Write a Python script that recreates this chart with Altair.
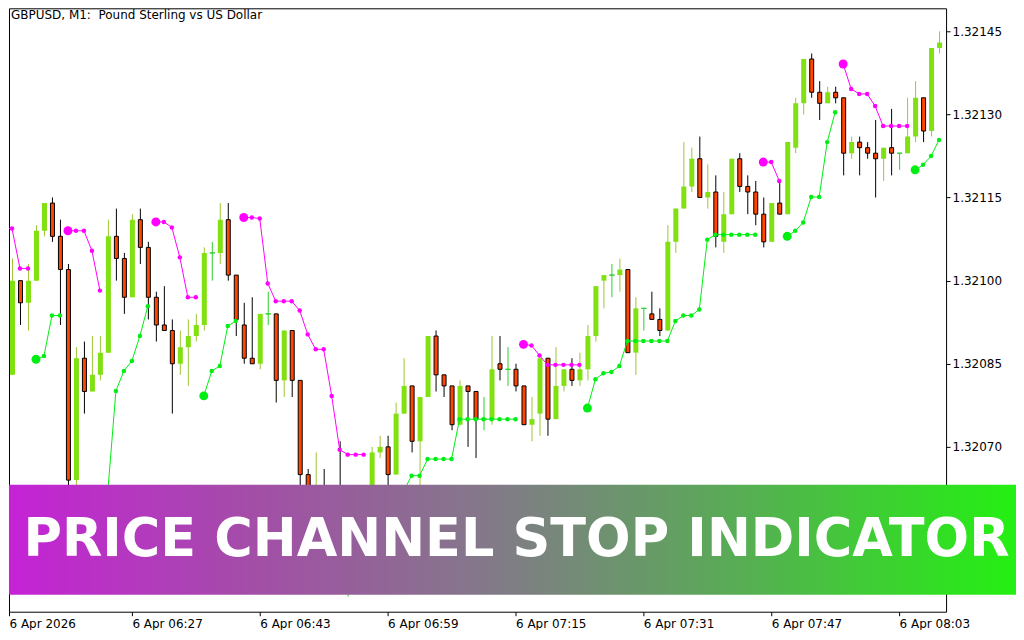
import json
import altair as alt
import pandas as pd

# ---------------- data ----------------
x_tick_minutes = [0, 16, 32, 48, 64, 80, 96, 112]
x_tick_labels = ["6 Apr 2026", "6 Apr 06:27", "6 Apr 06:43", "6 Apr 06:59",
                 "6 Apr 07:15", "6 Apr 07:31", "6 Apr 07:47", "6 Apr 08:03"]
y_ticks = [1.32070, 1.32085, 1.32100, 1.32115, 1.32130, 1.32145]
title_text = "GBPUSD, M1:\u00a0 Pound Sterling vs US Dollar"
banner_text = "PRICE CHANNEL STOP INDICATOR"

opens = [1.32095, 1.32083, 1.32100, 1.32096, 1.32100, 1.32109, 1.32114, 1.32108, 1.32102, 1.32064,
         1.32086, 1.32080, 1.32083, 1.32087, 1.32108, 1.32104, 1.32097, 1.32111, 1.32106, 1.32097,
         1.32092, 1.32091, 1.32085, 1.32088, 1.32090, 1.32092, 1.32105, 1.32105, 1.32111, 1.32101,
         1.32092, 1.32086, 1.32085, 1.32094, 1.32094, 1.32082, 1.32091, 1.32082, 1.32065, 1.32052,
         1.32062, 1.32056, 1.32060, 1.32052, 1.32052, 1.32060, 1.32056, 1.32069, 1.32070, 1.32065,
         1.32076, 1.32081, 1.32071, 1.32079, 1.32090, 1.32083, 1.32081, 1.32074, 1.32081, 1.32080,
         1.32075, 1.32075, 1.32085, 1.32084, 1.32084, 1.32081, 1.32074, 1.32076, 1.32086, 1.32075,
         1.32081, 1.32084, 1.32082, 1.32084, 1.32090, 1.32100, 1.32101, 1.32101, 1.32102, 1.32087,
         1.32095, 1.32094, 1.32093, 1.32091, 1.32107, 1.32113, 1.32117, 1.32122, 1.32115, 1.32116,
         1.32107, 1.32112, 1.32122, 1.32117, 1.32116, 1.32112, 1.32107, 1.32114, 1.32112, 1.32124,
         1.32132, 1.32140, 1.32134, 1.32132, 1.32134, 1.32133, 1.32123, 1.32125, 1.32124, 1.32123,
         1.32122, 1.32124, 1.32123, 1.32123, 1.32126, 1.32133, 1.32127, 1.32142]

highs = [1.32096, 1.32104, 1.32100, 1.32103, 1.32110, 1.32114, 1.32115, 1.32111, 1.32103, 1.32088,
         1.32089, 1.32090, 1.32090, 1.32111, 1.32113, 1.32105, 1.32112, 1.32113, 1.32107, 1.32098,
         1.32099, 1.32093, 1.32091, 1.32093, 1.32094, 1.32106, 1.32107, 1.32114, 1.32114, 1.32101,
         1.32096, 1.32097, 1.32094, 1.32098, 1.32094, 1.32091, 1.32091, 1.32082, 1.32066, 1.32069,
         1.32066, 1.32058, 1.32071, 1.32058, 1.32061, 1.32063, 1.32070, 1.32072, 1.32072, 1.32078,
         1.32086, 1.32081, 1.32079, 1.32090, 1.32091, 1.32083, 1.32081, 1.32082, 1.32081, 1.32080,
         1.32079, 1.32090, 1.32090, 1.32088, 1.32085, 1.32081, 1.32079, 1.32086, 1.32086, 1.32088,
         1.32084, 1.32086, 1.32087, 1.32092, 1.32099, 1.32101, 1.32103, 1.32104, 1.32102, 1.32097,
         1.32095, 1.32098, 1.32095, 1.32110, 1.32113, 1.32125, 1.32124, 1.32126, 1.32121, 1.32119,
         1.32116, 1.32122, 1.32123, 1.32119, 1.32118, 1.32115, 1.32114, 1.32118, 1.32125, 1.32133,
         1.32140, 1.32141, 1.32136, 1.32135, 1.32135, 1.32133, 1.32126, 1.32126, 1.32125, 1.32129,
         1.32124, 1.32131, 1.32123, 1.32133, 1.32136, 1.32133, 1.32142, 1.32145]

lows = [1.32082, 1.32083, 1.32092, 1.32091, 1.32100, 1.32108, 1.32107, 1.32092, 1.32060, 1.32061,
        1.32076, 1.32080, 1.32082, 1.32087, 1.32100, 1.32094, 1.32097, 1.32103, 1.32093, 1.32089,
        1.32091, 1.32076, 1.32083, 1.32081, 1.32089, 1.32091, 1.32100, 1.32103, 1.32100, 1.32090,
        1.32085, 1.32085, 1.32084, 1.32092, 1.32078, 1.32079, 1.32079, 1.32062, 1.32055, 1.32050,
        1.32052, 1.32045, 1.32047, 1.32043, 1.32050, 1.32052, 1.32054, 1.32068, 1.32063, 1.32065,
        1.32076, 1.32069, 1.32060, 1.32079, 1.32080, 1.32079, 1.32073, 1.32074, 1.32070, 1.32068,
        1.32073, 1.32074, 1.32082, 1.32081, 1.32080, 1.32074, 1.32071, 1.32072, 1.32072, 1.32075,
        1.32080, 1.32081, 1.32081, 1.32082, 1.32089, 1.32095, 1.32097, 1.32098, 1.32087, 1.32083,
        1.32091, 1.32093, 1.32090, 1.32091, 1.32105, 1.32113, 1.32116, 1.32115, 1.32113, 1.32106,
        1.32105, 1.32112, 1.32116, 1.32112, 1.32110, 1.32106, 1.32107, 1.32112, 1.32112, 1.32123,
        1.32130, 1.32133, 1.32129, 1.32132, 1.32132, 1.32119, 1.32122, 1.32119, 1.32122, 1.32115,
        1.32118, 1.32119, 1.32120, 1.32123, 1.32125, 1.32125, 1.32126, 1.32141]

closes = [1.32083, 1.32100, 1.32096, 1.32100, 1.32109, 1.32114, 1.32108, 1.32102, 1.32064, 1.32086,
          1.32080, 1.32083, 1.32087, 1.32108, 1.32104, 1.32097, 1.32111, 1.32106, 1.32097, 1.32092,
          1.32091, 1.32085, 1.32088, 1.32090, 1.32092, 1.32105, 1.32105, 1.32111, 1.32101, 1.32093,
          1.32086, 1.32085, 1.32094, 1.32094, 1.32082, 1.32091, 1.32082, 1.32065, 1.32058, 1.32062,
          1.32055, 1.32048, 1.32050, 1.32052, 1.32058, 1.32054, 1.32069, 1.32070, 1.32065, 1.32076,
          1.32081, 1.32071, 1.32079, 1.32090, 1.32083, 1.32081, 1.32074, 1.32081, 1.32080, 1.32075,
          1.32075, 1.32084, 1.32084, 1.32084, 1.32081, 1.32074, 1.32075, 1.32086, 1.32075, 1.32081,
          1.32084, 1.32082, 1.32084, 1.32090, 1.32099, 1.32101, 1.32101, 1.32102, 1.32087, 1.32095,
          1.32095, 1.32093, 1.32091, 1.32107, 1.32113, 1.32117, 1.32122, 1.32115, 1.32116, 1.32108,
          1.32112, 1.32122, 1.32117, 1.32116, 1.32112, 1.32107, 1.32114, 1.32112, 1.32125, 1.32132,
          1.32140, 1.32134, 1.32132, 1.32134, 1.32133, 1.32123, 1.32125, 1.32124, 1.32123, 1.32122,
          1.32124, 1.32123, 1.32123, 1.32126, 1.32133, 1.32127, 1.32142, 1.32143]

upper_stop = [1.321094, 1.321094, 1.321022, 1.321022, None, None, None, None, 1.321090, 1.321090,
              1.321090, 1.321054, 1.320982, None, None, None, None, None, None, 1.321106,
              1.321106, 1.321096, 1.321042, 1.320970, 1.320970, None, None, None, None, None,
              1.321114, 1.321114, 1.321112, 1.320995, 1.320963, 1.320963, 1.320963, 1.320946, 1.320903, 1.320876,
              1.320876, 1.320792, 1.320695, 1.320686, 1.320686, 1.320686, None, None, None, None,
              None, None, None, None, None, None, None, None, None, None,
              None, None, None, None, None, 1.320885, 1.320883, 1.320865, 1.320848, 1.320848,
              1.320848, 1.320848, 1.320848, None, None, None, None, None, None, None,
              None, None, None, None, None, None, None, None, None, None,
              None, None, None, None, None, 1.321214, 1.321214, 1.321180, None, None,
              None, None, None, None, None, 1.321391, 1.321346, 1.321337, 1.321337, 1.321315,
              1.321279, 1.321279, 1.321279, 1.321279, None, None, None, None]

lower_stop = [None, None, None, None, 1.320858, 1.320864, 1.320937, 1.320937, None, None,
              None, None, None, 1.320621, 1.320801, 1.320837, 1.320855, 1.320900, 1.320954, None,
              None, None, None, None, None, 1.320792, 1.320837, 1.320846, 1.320918, 1.320927,
              None, None, None, None, None, None, None, None, None, None,
              None, None, None, None, None, None, 1.320500, 1.320530, 1.320560, 1.320590,
              1.320620, 1.320648, 1.320648, 1.320678, 1.320678, 1.320678, 1.320678, 1.320750, 1.320750, 1.320750,
              1.320750, 1.320750, 1.320750, 1.320750, 1.320750, None, None, None, None, None,
              None, None, None, 1.320770, 1.320822, 1.320833, 1.320835, 1.320846, 1.320891, 1.320891,
              1.320891, 1.320891, 1.320891, 1.320891, 1.320927, 1.320937, 1.320937, 1.320948, 1.321074, 1.321083,
              1.321083, 1.321083, 1.321083, 1.321083, 1.321083, None, None, None, 1.321080, 1.321090,
              1.321105, 1.321151, 1.321151, 1.321250, 1.321304, None, None, None, None, None,
              None, None, None, None, 1.321200, 1.321209, 1.321225, 1.321254]

# ---------------- tables ----------------
n = len(opens)
kinds = ["bull" if c > o else ("bear" if c < o else "doji") for o, c in zip(opens, closes)]
candles = pd.DataFrame({"k": list(range(n)), "o": opens, "h": highs, "l": lows,
                        "c": closes, "kind": kinds})


def stop_rows(vals, name):
    rows, seg, prev = [], -1, None
    for k, v in enumerate(vals):
        if v is None:
            prev = None
            continue
        start = prev is None
        if start:
            seg += 1
        rows.append({"k": k, "v": v, "seg": f"{name}{seg}",
                     "dot": "big" if (start and k > 0) else "small"})
        prev = v
    return pd.DataFrame(rows)


up_df = stop_rows(upper_stop, "u")
lo_df = stop_rows(lower_stop, "l")

# ---------------- scales / axes ----------------
X_DOM = [0.625, 117.875]
Y_DOM = [1.3204025, 1.3214915]
PLOT_W, PLOT_H = 938, 604

label_expr = f"{json.dumps(x_tick_labels)}[floor(datum.value / 16)]"
x_axis = alt.Axis(values=[max(t, X_DOM[0]) for t in x_tick_minutes], labelExpr=label_expr,
                  labelAlign="left", labelFlush=False, labelOverlap=False, labelBound=False,
                  labelFont="DejaVu Sans", labelFontSize=12, labelColor="black",
                  tickColor="black", tickSize=4, labelPadding=3, domain=False, grid=False,
                  title=None)
y_axis = alt.Axis(orient="right", values=y_ticks, format=".5f", labelOverlap=False,
                  labelFont="DejaVu Sans", labelFontSize=12, labelColor="black",
                  tickColor="black", tickSize=4, labelPadding=2, domain=False, grid=False,
                  title=None)
xs = alt.Scale(domain=X_DOM, nice=False, zero=False, padding=0)
ys = alt.Scale(domain=Y_DOM, nice=False, zero=False, padding=0)


def X():
    return alt.X("k:Q", scale=xs, axis=x_axis)


def Y(field):
    return alt.Y(f"{field}:Q", scale=ys, axis=y_axis)


base = alt.Chart(candles)

wicks = base.mark_rule(strokeWidth=1, clip=True, xOffset=0.5).encode(
    x=X(), y=Y("l"), y2="h:Q",
    color=alt.Color("kind:N", scale=alt.Scale(domain=["bull", "bear", "doji"],
                                              range=["#9cc832", "#000000", "#2ccf2c"]),
                    legend=None))

bull = base.transform_filter(alt.datum.kind == "bull").mark_bar(
    width=5, color="#80e010", clip=True, xOffset=0.5).encode(x=X(), y=Y("o"), y2="c:Q")

bear = base.transform_filter(alt.datum.kind == "bear").mark_bar(
    width=4, fill="#ff4500", stroke="#000000", strokeWidth=1, clip=True, xOffset=0.5
).encode(x=X(), y=Y("o"), y2="c:Q")

doji = base.transform_filter(alt.datum.kind == "doji").mark_bar(
    width=5, fill="#2ccf2c", stroke="#2ccf2c", strokeWidth=1, clip=True, xOffset=0.5
).encode(x=X(), y=Y("o"), y2="c:Q")


def stop_layers(df, col):
    line = alt.Chart(df).mark_line(strokeWidth=1, color=col, clip=True).encode(
        x=X(), y=Y("v"), detail="seg:N", order="k:Q")
    dots = alt.Chart(df).mark_circle(color=col, opacity=1, clip=True).encode(
        x=X(), y=Y("v"),
        size=alt.Size("dot:N", scale=alt.Scale(domain=["small", "big"], range=[20, 80]),
                      legend=None))
    return line + dots


up_layers = stop_layers(up_df, "#ff00ff")
lo_layers = stop_layers(lo_df, "#00ee11")

one = pd.DataFrame({"t": [banner_text], "h": [title_text]})
grad = alt.LinearGradient(
    gradient="linear", x1=0, x2=1, y1=0, y2=0,
    stops=[alt.GradientStop(offset=0.0, color="#c522d6"),
           alt.GradientStop(offset=0.25, color="#a24fa6"),
           alt.GradientStop(offset=0.47, color="#84788a"),
           alt.GradientStop(offset=0.70, color="#5ca75a"),
           alt.GradientStop(offset=1.0, color="#24f012")])
banner = alt.Chart(one).mark_rect(fill=grad, clip=False).encode(
    x=alt.value(0), x2=alt.value(1008), y=alt.value(477), y2=alt.value(587))
banner_txt = alt.Chart(one).mark_text(
    align="center", baseline="alphabetic", font="DejaVu Sans", fontWeight="bold",
    fontSize=52.5, color="white").encode(x=alt.value(508), y=alt.value(548), text="t:N")
title = alt.Chart(one).mark_text(
    align="left", baseline="middle", font="DejaVu Sans", fontSize=12, color="black"
).encode(x=alt.value(2), y=alt.value(6.5), text="h:N")

chart = alt.layer(wicks, bull, bear, doji, up_layers, lo_layers, banner, banner_txt, title
                  ).properties(width=PLOT_W, height=PLOT_H, padding=0, background="white"
                  ).configure_view(stroke="black", strokeWidth=1)

chart.save("out.html", embed_options={"renderer": "svg", "actions": False})
